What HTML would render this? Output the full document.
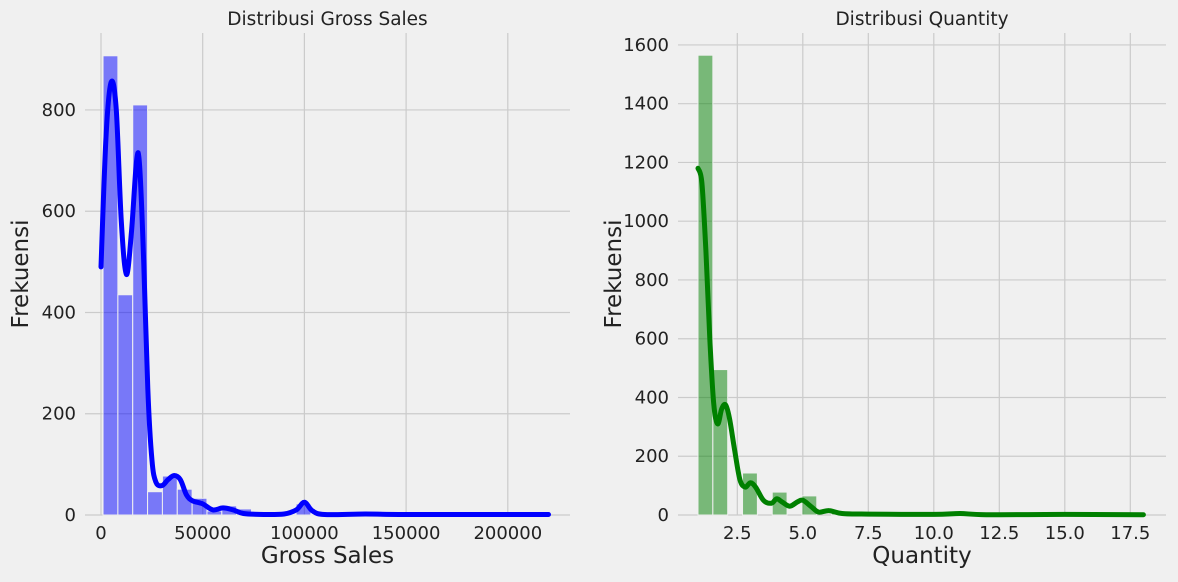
<!DOCTYPE html>
<html><head><meta charset="utf-8"><style>
body{margin:0;background:#f0f0f0;font-family:"Liberation Sans","DejaVu Sans",sans-serif}
svg text{font-family:"DejaVu Sans","Liberation Sans",sans-serif;fill:#222}
</style></head><body>
<svg id="c" width="1178" height="577" xmlns="http://www.w3.org/2000/svg">
<rect width="1178" height="577" fill="#f0f0f0"/>
</svg>
<script>
// Left: Gross Sales
const gsBinStart = 1000, gsBinWidth = 7300;
const gsCounts = [907,435,810,46,77,51,33,8,18,12,6,2,1,22,1,2,1,0,0,0,0,0,0,0,0,0,0,0,0,1];
const gsKdeX = [0,2500,5000,7500,10000,12500,15000,17500,19000,21000,23000,25000,27000,30000,33000,36000,39000,42000,45000,50000,55000,60000,65000,70000,80000,90000,96000,100000,104000,110000,130000,150000,220000];
const gsKdeY = [490,750,855,800,580,475,560,700,690,500,250,110,65,58,70,78,70,40,28,22,10,14,10,3,1,2,10,25,8,1,2,1,1];
const gsXTicks = [0,50000,100000,150000,200000];
const gsYTicks = [0,200,400,600,800];
// Right: Quantity
const qBinStart = 1, qBinWidth = 17/30;
const qCounts = [1565,495,0,143,0,78,0,65,0,8,0,3,0,2,0,1,0,0,0,0,0,0,0,0,0,0,0,0,0,1];
const qKdeX = [1,1.15,1.3,1.45,1.6,1.75,1.9,2.05,2.2,2.4,2.6,2.8,3.0,3.2,3.5,3.8,4.0,4.2,4.5,4.8,5.0,5.3,5.6,6.0,6.5,7.5,10,11,12,15,18];
const qKdeY = [1180,1130,900,600,380,310,360,375,330,220,120,95,110,95,50,40,55,45,30,45,50,30,10,15,5,3,2,5,1,2,1];
const qXTicks = [2.5,5.0,7.5,10.0,12.5,15.0,17.5];
const qYTicks = [0,200,400,600,800,1000,1200,1400,1600];

const NS="http://www.w3.org/2000/svg", svg=document.getElementById('c');
function mk(tag,attrs,parent){const e=document.createElementNS(NS,tag);for(const k in attrs)e.setAttribute(k,attrs[k]);(parent||svg).appendChild(e);return e;}
function smooth(pts){
  let d='M'+pts[0][0].toFixed(1)+' '+pts[0][1].toFixed(1);
  for(let i=0;i<pts.length-1;i++){
    const p0=pts[Math.max(0,i-1)],p1=pts[i],p2=pts[i+1],p3=pts[Math.min(pts.length-1,i+2)];
    const c1=[p1[0]+(p2[0]-p0[0])/6,p1[1]+(p2[1]-p0[1])/6];
    const c2=[p2[0]-(p3[0]-p1[0])/6,p2[1]-(p3[1]-p1[1])/6];
    d+=` C${c1[0].toFixed(1)} ${c1[1].toFixed(1)} ${c2[0].toFixed(1)} ${c2[1].toFixed(1)} ${p2[0].toFixed(1)} ${p2[1].toFixed(1)}`;
  }
  return d;
}

function panel(o){
  const g=mk('g',{});
  
  
  const sx=v=>o.px0+(v-o.x0)*o.kx, sy=v=>o.py0-v*o.ky;
  o.yTicks.forEach(t=>{
    const l=mk('line',{x1:o.left,x2:o.right,y1:sy(t),y2:sy(t),stroke:'#cbcbcb','stroke-width':1.2},g);
    
    
    const tx=mk('text',{x:o.left-9,y:sy(t)+6,'text-anchor':'end','font-size':18},g);
    tx.textContent=t;
    
    
  });
  o.xTicks.forEach(t=>{
    const l=mk('line',{x1:sx(t),x2:sx(t),y1:o.top,y2:o.py0,stroke:'#cbcbcb','stroke-width':1.2},g);
    
    
    const tx=mk('text',{x:sx(t),y:o.py0+24,'text-anchor':'middle','font-size':18},g);
    tx.textContent=o.fmt(t);
    
    
  });
  o.counts.forEach((c,i)=>{
    if(c<=0)return;
    const a=o.binStart+i*o.binWidth;
    const r=mk('rect',{x:sx(a),y:sy(c),width:sx(a+o.binWidth)-sx(a),height:c*o.ky,fill:o.fill,'fill-opacity':0.5,stroke:'#f0f0f0','stroke-width':1},g);
    
    
  });
  const pts=o.kx2.map((x,i)=>[sx(x),sy(o.ky2[i])]);
  const p=mk('path',{d:smooth(pts),fill:'none',stroke:o.line,'stroke-width':5,'stroke-linejoin':'round','stroke-linecap':'round'},g);
  
  
  const t=mk('text',{x:(o.left+o.right)/2,y:25,'text-anchor':'middle','font-size':18.5},g);
  t.textContent=o.title;
  
  
  const xl=mk('text',{x:(o.left+o.right)/2,y:563,'text-anchor':'middle','font-size':23},g);
  xl.textContent=o.xlabel;
  
  
  const yx=o.left-57, yy=(o.top+o.py0)/2;
  const yl=mk('text',{x:yx,y:yy,'text-anchor':'middle','font-size':23,transform:`rotate(-90 ${yx} ${yy})`},g);
  yl.textContent='Frekuensi';
  
  
}
panel({name:'gross-sales-histogram',left:85,right:570,top:33,px0:101,py0:515,x0:0,kx:101.7/50000,ky:0.5063,
  xTicks:gsXTicks,yTicks:gsYTicks,counts:gsCounts,binStart:gsBinStart,binWidth:gsBinWidth,kx2:gsKdeX,ky2:gsKdeY,
  fill:'#0000ff',line:'#0000ff',title:'Distribusi Gross Sales',xlabel:'Gross Sales',fmt:t=>String(t)});
panel({name:'quantity-histogram',left:678,right:1166,top:33,px0:698,py0:515,x0:1,kx:65.5/2.5,ky:0.2938,
  xTicks:qXTicks,yTicks:qYTicks,counts:qCounts,binStart:qBinStart,binWidth:qBinWidth,kx2:qKdeX,ky2:qKdeY,
  fill:'#008000',line:'#008000',title:'Distribusi Quantity',xlabel:'Quantity',fmt:t=>t.toFixed(1)});
</script>
</body></html>
